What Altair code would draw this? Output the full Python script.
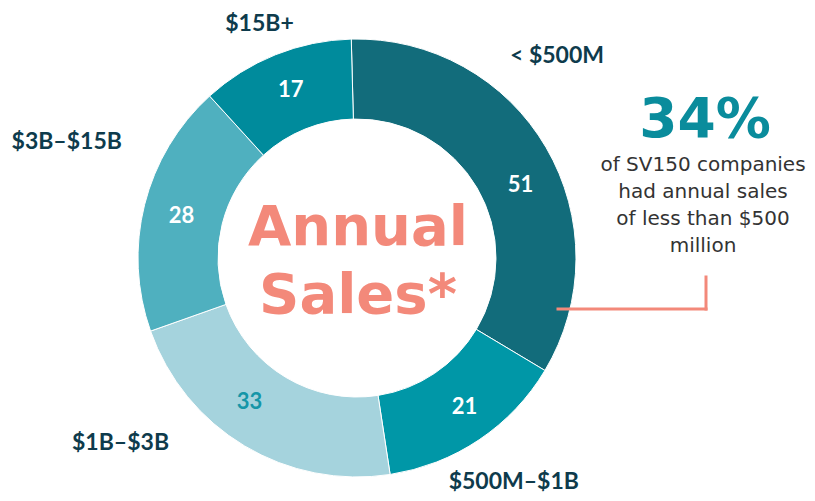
import math
import altair as alt
import pandas as pd

# ---- data ----
categories = ["< $500M", "$500M–$1B", "$1B–$3B", "$3B–$15B", "$15B+"]
counts = [51, 21, 33, 28, 17]
colors = ["#126c7b", "#0097a7", "#a5d3dd", "#4fb0bf", "#008b9c"]
number_colors = ["#ffffff", "#ffffff", "#1596a8", "#ffffff", "#ffffff"]

callout_value = "34%"
callout_lines = ["of SV150 companies", "had annual sales", "of less than $500", "million"]
center_lines = ["Annual", "Sales*"]

df = pd.DataFrame({
    "cat": categories,
    "value": counts,
    "order": list(range(len(categories))),
    "numcolor": number_colors,
})

# ---- style / layout ----
CX, CY = 349, 250          # donut centre in plot pixels
R_OUT, R_IN = 219, 139
R_NUM, R_LAB = 180, 256
START = math.radians(-1.5)
SALMON = "#f3897a"
NAVY = "#0e3b4c"

theta_scale = alt.Scale(domain=[0, sum(counts)],
                        range=[START, START + 2 * math.pi], nice=False, zero=True)

base = (
    alt.Chart(df)
    .transform_stack(stack="value", groupby=[], as_=["v0", "v1"],
                     sort=[alt.SortField("order", order="ascending")])
    .transform_calculate(mid="(datum.v0 + datum.v1) / 2")
)

arcs = base.mark_arc(radius=R_OUT, radius2=R_IN, stroke="white", strokeWidth=1).encode(
    theta=alt.Theta("v0:Q", scale=theta_scale),
    theta2="v1:Q",
    color=alt.Color("cat:N", scale=alt.Scale(domain=categories, range=colors), legend=None),
    x=alt.value(CX),
    y=alt.value(CY),
)

inner_off = {
    "< $500M": (8, 18), "$500M–$1B": (7, 0), "$1B–$3B": (-15, -10),
    "$3B–$15B": (-1, 2), "$15B+": (1, -1),
}
outer_off = {
    "< $500M": (-21, -73), "$500M–$1B": (14, 12), "$1B–$3B": (-105, -35),
    "$3B–$15B": (-42, -54), "$15B+": (-2, 3.5),
}

layers = [arcs]
for c in categories:
    dx, dy = inner_off[c]
    layers.append(
        base.transform_filter(alt.datum.cat == c)
        .mark_text(radius=R_NUM, dx=dx, dy=dy, font="Lato", fontWeight="bold",
                   fontSize=22, baseline="middle", align="center")
        .encode(theta=alt.Theta("mid:Q", scale=theta_scale), text="value:Q",
                color=alt.Color("numcolor:N", scale=None),
                x=alt.value(CX), y=alt.value(CY))
    )
    dx, dy = outer_off[c]
    layers.append(
        base.transform_filter(alt.datum.cat == c)
        .mark_text(radius=R_LAB, dx=dx, dy=dy, font="Lato", fontWeight="bold",
                   fontSize=23, baseline="middle", align="center", color=NAVY)
        .encode(theta=alt.Theta("mid:Q", scale=theta_scale), text="cat:N",
                x=alt.value(CX), y=alt.value(CY))
    )

one = alt.Chart(pd.DataFrame({"k": [0]}))

center_text = one.mark_text(font="DejaVu Sans", fontWeight="bold", fontSize=56,
                            color=SALMON, align="center", baseline="alphabetic",
                            lineHeight=68).encode(
    x=alt.value(350), y=alt.value(237), text=alt.value(center_lines))

big_pct = one.mark_text(font="DejaVu Sans", fontWeight="bold", fontSize=55,
                        color="#0a8c9c", align="center", baseline="alphabetic").encode(
    x=alt.value(697), y=alt.value(129), text=alt.value(callout_value))

body = one.mark_text(font="DejaVu Sans", fontSize=20, color="#333333",
                     align="center", baseline="alphabetic", lineHeight=27).encode(
    x=alt.value(695), y=alt.value(163), text=alt.value(callout_lines))

h_line = one.mark_rule(color=SALMON, strokeWidth=3, strokeCap="square").encode(
    x=alt.value(550), x2=alt.value(698), y=alt.value(301))
v_line = one.mark_rule(color=SALMON, strokeWidth=3, strokeCap="square").encode(
    x=alt.value(698), y=alt.value(269), y2=alt.value(301))

chart = alt.layer(*layers, center_text, big_pct, body, h_line, v_line).properties(
    width=799, height=485, padding=0,
    autosize=alt.AutoSizeParams(type="none"),
).configure_view(stroke=None)

chart.save("out.html", embed_options={"renderer": "svg", "actions": False})
